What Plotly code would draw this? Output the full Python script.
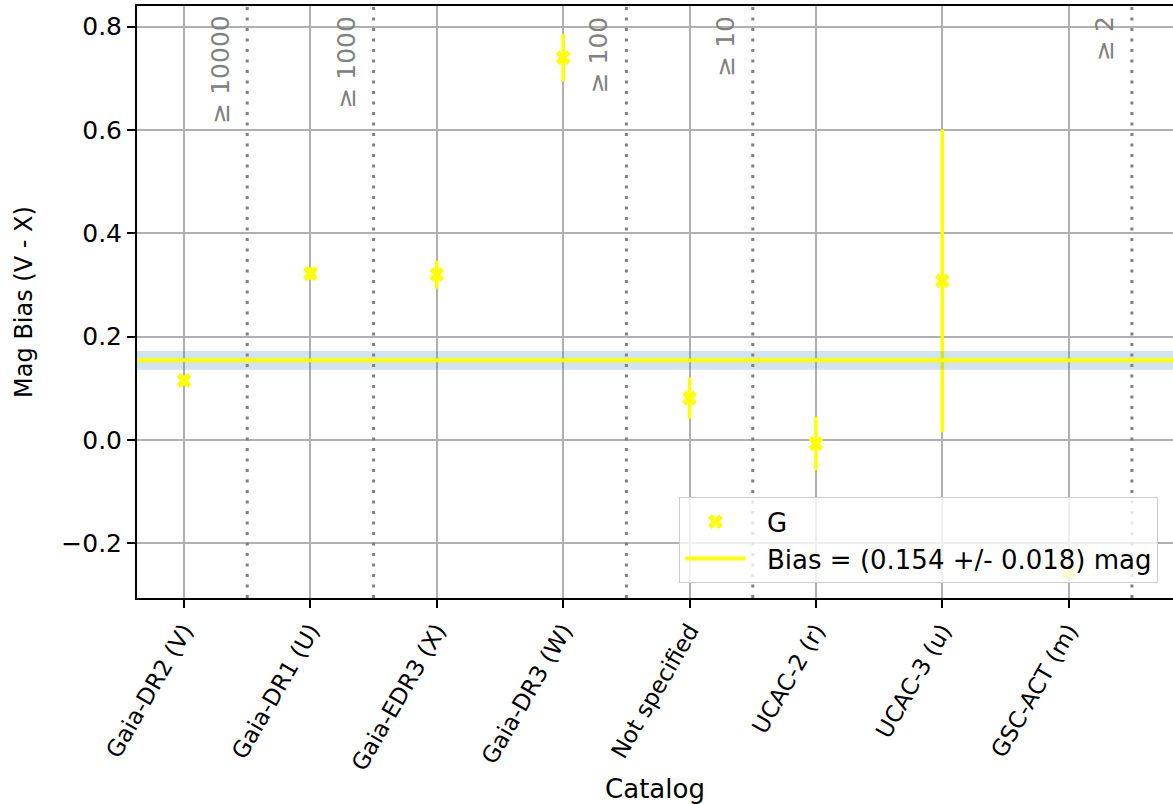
import plotly.graph_objects as go

categories = ["Gaia-DR2 (V)", "Gaia-DR1 (U)", "Gaia-EDR3 (X)", "Gaia-DR3 (W)",
              "Not specified", "UCAC-2 (r)", "UCAC-3 (u)", "GSC-ACT (m)"]
bias_vals = [0.115, 0.322, 0.320, 0.740, 0.081, -0.007, 0.308, -0.256]
bias_errs = [0.010, 0.012, 0.027, 0.046, 0.040, 0.052, 0.293, 0.010]

mean_bias = 0.154
mean_err = 0.018

sep_positions = [0.5, 1.5, 3.5, 4.5, 7.5]
sep_labels = ["≥ 10000", "≥ 1000", "≥ 100", "≥ 10", "≥ 2"]

FONT = "DejaVu Sans"
W, H = 1173, 804
ML, MR, MT, MB = 137, 0, 6, 206

x_idx = list(range(len(categories)))

fig = go.Figure()

fig.add_trace(go.Scatter(
    x=x_idx, y=bias_vals, mode="markers", name="\u00a0\u00a0G",
    marker=dict(symbol="x", size=13, color="#ffff00", line=dict(width=0)),
    error_y=dict(type="data", array=bias_errs, visible=True, color="#ffff00",
                 thickness=3.5, width=0),
    showlegend=True,
))

shapes = []
shapes.append(dict(type="rect", xref="paper", yref="y", x0=0, x1=1,
                   y0=mean_bias - mean_err, y1=mean_bias + mean_err,
                   fillcolor="rgba(31,119,180,0.2)", line=dict(width=0),
                   layer="above"))
for xp in sep_positions:
    shapes.append(dict(type="line", xref="x", yref="paper", x0=xp, x1=xp, y0=0, y1=1,
                       line=dict(color="#808080", width=3, dash="3px,7.5px"),
                       layer="above"))
shapes.append(dict(type="line", xref="paper", yref="y", x0=0, x1=1,
                   y0=mean_bias, y1=mean_bias,
                   line=dict(color="#ffff00", width=4), layer="above",
                   showlegend=True,
                   name=f"\u00a0\u00a0Bias = ({mean_bias:.3f} +/- {mean_err:.3f}) mag"))

annotations = []
for xp, lab in zip(sep_positions, sep_labels):
    annotations.append(dict(x=xp, y=1, xref="x", yref="paper", text=lab,
                            textangle=-90, showarrow=False,
                            xanchor="right", yanchor="top", xshift=-11, yshift=-8,
                            font=dict(family=FONT, size=25, color="#808080")))

fig.update_layout(
    template="none",
    width=W, height=H,
    margin=dict(l=ML, r=MR, t=MT, b=MB, pad=0, autoexpand=False),
    paper_bgcolor="white", plot_bgcolor="white",
    font=dict(family=FONT, size=24, color="black"),
    shapes=shapes, annotations=annotations,
    showlegend=True,
    legend=dict(x=0.986, y=0.025, xanchor="right", yanchor="bottom",
                bgcolor="rgba(255,255,255,0.8)", bordercolor="#cccccc", borderwidth=1,
                font=dict(family=FONT, size=26), itemwidth=60, tracegroupgap=0),
)

fig.update_xaxes(
    range=[-0.372, 7.825], automargin=False,
    tickmode="array", tickvals=x_idx, ticktext=categories, tickangle=-60,
    ticks="outside", ticklen=8, tickwidth=2, tickcolor="black",
    showline=True, linecolor="black", linewidth=2, mirror=True,
    showgrid=True, gridcolor="#b0b0b0", gridwidth=2,
    zeroline=False,
    tickfont=dict(family=FONT, size=23),
    title=dict(text="Catalog", font=dict(family=FONT, size=26), standoff=16),
)
fig.update_yaxes(
    range=[-0.306, 0.840], automargin=False,
    tickmode="array", tickvals=[-0.2, 0.0, 0.2, 0.4, 0.6, 0.8],
    tickformat=".1f",
    ticks="outside", ticklen=8, tickwidth=2, tickcolor="black",
    showline=True, linecolor="black", linewidth=2, mirror=False,
    showgrid=True, gridcolor="#b0b0b0", gridwidth=2,
    zeroline=False,
    tickfont=dict(family=FONT, size=25),
    title=dict(text="Mag Bias (V - X)", font=dict(family=FONT, size=24), standoff=22),
)

fig.write_html("out.html")
